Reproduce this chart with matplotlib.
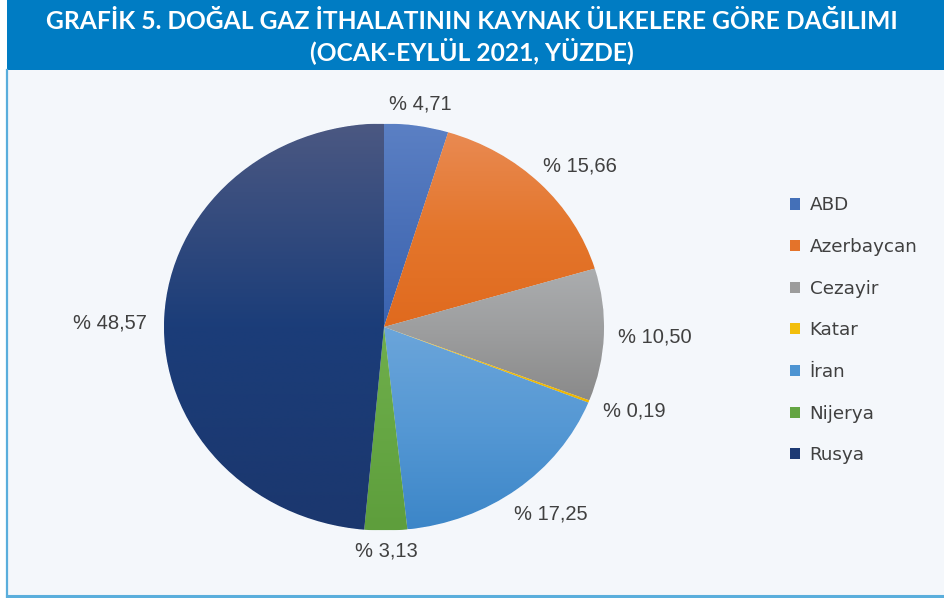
import numpy as np
import matplotlib
matplotlib.use("Agg")
import matplotlib.pyplot as plt
from matplotlib.patches import Rectangle
from matplotlib.colors import to_rgb

# ---- data ----
countries = ["ABD", "Azerbaycan", "Cezayir", "Katar", "İran", "Nijerya", "Rusya"]
shares = [4.71, 15.66, 10.50, 0.19, 17.25, 3.13, 48.57]
share_labels = ["% 4,71", "% 15,66", "% 10,50", "% 0,19", "% 17,25", "% 3,13", "% 48,57"]
title_text = "GRAFİK 5. DOĞAL GAZ İTHALATININ KAYNAK ÜLKELERE GÖRE DAĞILIMI\n(OCAK-EYLÜL 2021, YÜZDE)"

# ---- style ----
base_colors = ["#4470B8", "#E4732A", "#9C9C9C", "#F2BE0C", "#4D94D2", "#64A543", "#1D3A74"]
top_colors = ["#5B80C4", "#E98A52", "#ABADAF", "#F6CC3A", "#6BA5DA", "#70AE4C", "#4B5882"]
mid_colors = ["#4A70B8", "#E4762C", "#9C9D9E", "#F2BE0C", "#5598D4", "#66A744", "#1B3D79"]
bot_colors = ["#3A63B0", "#E06A1E", "#8A8A8A", "#EDB600", "#3C86C8", "#5E9E3C", "#1B376E"]
label_r = [1.11, 1.19, 1.23, 1.21, 1.19, 1.10, 1.245]
label_dang = [0.0, -3.3, 0.0, 1.5, 2.3, 0.0, 1.7]
text_col = "#404040"
panel_bg = "#F4F7FB"
bar_col = "#007CC3"
border_col = "#5AAEDC"

W, H = 944, 598
fig = plt.figure(figsize=(W / 100, H / 100), dpi=100)
fig.patch.set_facecolor("white")

# panel background and borders (figure pixel coords)
bg = fig.add_axes([0, 0, 1, 1])
bg.set_xlim(0, W)
bg.set_ylim(H, 0)
bg.axis("off")
bg.add_patch(Rectangle((7, 69), W - 7, H - 69 - 3, facecolor=panel_bg, edgecolor="none"))
bg.add_patch(Rectangle((7, 0), W - 7, 70, facecolor=bar_col, edgecolor="none"))
bg.plot([6.5, 6.5], [70, 597], color=border_col, lw=1.6)
bg.plot([6.5, W], [595.5, 595.5], color=border_col, lw=2.2)
ttl = bg.text(472, 37, title_text, ha="center", va="center", color="white",
              fontsize=18, fontweight="bold", linespacing=1.2,
              family=["Lato", "DejaVu Sans"])
fig.canvas.draw()
tw = ttl.get_window_extent().width
ttl.set_fontsize(18 * 850.0 / tw)

# pie axes: center (384,327), rx 220, ry 203.5
cx, cy, rx, ry = 384, 327, 220, 203.5
ax = fig.add_axes([(cx - rx) / W, 1 - (cy + ry) / H, 2 * rx / W, 2 * ry / H])
wedges, _ = ax.pie(shares, colors=base_colors, startangle=90, counterclock=False,
                   wedgeprops=dict(linewidth=0.6, edgecolor="#F4F7FB"))
ax.set_aspect("auto")
ax.axis("off")

# vertical gradients clipped to each wedge
for w, c1, c2, c3 in zip(wedges, top_colors, mid_colors, bot_colors):
    path = w.get_path().transformed(w.get_patch_transform())
    ext = path.get_extents()
    y0, y1 = ext.y0, ext.y1
    n = 128
    t = np.linspace(0, 1, n)
    stops = np.array([to_rgb(c1), to_rgb(c2), to_rgb(c3)])
    grad = np.stack([np.interp(t, [0, 0.5, 1], stops[:, k]) for k in range(3)], axis=1)[:, None, :]
    im = ax.imshow(grad, extent=[-1, 1, y0, y1], origin="upper",
                   aspect="auto", zorder=w.get_zorder() + 0.1, interpolation="bilinear")
    im.set_clip_path(w)
ax.set_xlim(-1, 1)
ax.set_ylim(-1, 1)

# labels
for w, lab, r, da in zip(wedges, share_labels, label_r, label_dang):
    ang = np.deg2rad((w.theta1 + w.theta2) / 2 + da)
    ax.text(r * np.cos(ang), r * np.sin(ang), lab, ha="center", va="center",
            color=text_col, fontsize=14.5,
            family=["Liberation Sans", "DejaVu Sans"], clip_on=False)

# legend
leg = fig.legend(wedges, countries, loc="upper left", bbox_to_anchor=(773 / W, 1 - 180 / H),
                 frameon=False, handlelength=0.55, handleheight=0.55, handletextpad=0.55,
                 labelspacing=1.29, prop=dict(family="DejaVu Sans", size=13.2),
                 labelcolor=text_col)
for h, c in zip(leg.legend_handles, base_colors):
    h.set_facecolor(c)
    h.set_edgecolor("none")

fig.savefig("out.png", dpi=100, facecolor="white")
